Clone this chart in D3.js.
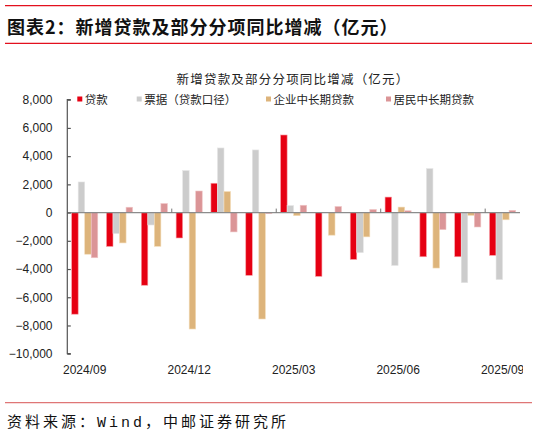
<!DOCTYPE html>
<html><head><meta charset="utf-8">
<script src="https://cdn.jsdelivr.net/npm/d3@7/dist/d3.min.js"></script>
<style>
body{margin:0;background:#fff;}
svg{display:block;}
</style></head>
<body>
<svg id="c" width="537" height="438"></svg>
<script>
const months = ["2024/09","2024/10","2024/11","2024/12","2025/01","2025/02","2025/03","2025/04","2025/05","2025/06","2025/07","2025/08","2025/09"];
const seriesNames = ["贷款","票据（贷款口径）","企业中长期贷款","居民中长期贷款"];
const loans      = [-7200,-2400,-5150,-1800, 2080,-4450, 5500,-4520,-3320, 1100,-3130,-3130,-3030];
const bills      = [ 2170,-1490, -880, 2980, 4580, 4440,  500,    0,-2840,-3750, 3120,-4970,-4750];
const corpLong   = [-2950,-2150,-2390,-8250, 1490,-7540, -220,-1600,-1720,  390,-3930, -200, -510];
const houseLong  = [-3200,  380,  640, 1530,-1370,  -80,  520,  430,  220,  130,-1210,-1020,  160];
const yTicks = [8000,6000,4000,2000,0,-2000,-4000,-6000,-8000,-10000];
const xLabelMonths = ["2024/09","2024/12","2025/03","2025/06","2025/09"];
const colors = ["#e60012","#cccccc","#ddb47b","#db9597"];
const strokes = ["#f7a0a8","#e6e6e6","#f3dcb8","#f0c6c7"];

const seriesValues = [loans, bills, corpLong, houseLong];
const svg = d3.select("#c");

// header lines and title
svg.append("line").attr("x1",5).attr("x2",532).attr("y1",5.7).attr("y2",5.7).attr("stroke","#e3101e").attr("stroke-width",1.2);
svg.append("line").attr("x1",5).attr("x2",532).attr("y1",43.3).attr("y2",43.3).attr("stroke","#e3101e").attr("stroke-width",1.2);
svg.append("text").attr("x",7).attr("y",33.5)
  .attr("font-family","'Noto Sans CJK SC'").attr("font-weight","bold").attr("font-size",18)
  .attr("letter-spacing",1).attr("fill","#111")
  .text("图表2：新增贷款及部分分项同比增减（亿元）");

// footer
svg.append("line").attr("x1",5).attr("x2",532).attr("y1",402.7).attr("y2",402.7).attr("stroke","#df7676").attr("stroke-width",1.3);
const src = svg.append("text").attr("x",7).attr("y",427)
  .attr("font-family","'Noto Sans CJK SC'").attr("font-size",15).attr("letter-spacing",3).attr("fill","#111");
src.append("tspan").text("资料来源：");
src.append("tspan").attr("font-family","'Liberation Mono','DejaVu Sans Mono'").text("Wind");
src.append("tspan").text("，中邮证券研究所");

// chart subtitle
svg.append("text").attr("x",293).attr("y",83.5).attr("text-anchor","middle")
  .attr("font-family","'Noto Sans CJK SC'").attr("font-size",12.5).attr("letter-spacing",1.2).attr("fill","#222")
  .text("新增贷款及部分分项同比增减（亿元）");

// scales
const y = d3.scaleLinear().domain([-10000,8000]).range([353.7,99.7]);
const x0 = d3.scaleBand().domain(months).range([67.3,520]).paddingInner(0.25).paddingOuter(0.125);
const x1 = d3.scaleBand().domain(d3.range(seriesNames.length)).range([0,x0.bandwidth()]);

// bars
const g = svg.append("g");
seriesValues.forEach((vals,si)=>{
  g.selectAll(null).data(vals.map((v,i)=>({m:months[i],v:v}))).join("rect")
    .attr("x",d=>x0(d.m)+x1(si))
    .attr("width",x1.bandwidth())
    .attr("y",d=>Math.min(y(d.v),y(0)))
    .attr("height",d=>Math.abs(y(d.v)-y(0)))
    .attr("fill",colors[si])
    .attr("stroke",strokes[si]).attr("stroke-width",0.6);
});

// zero axis line
svg.append("line").attr("x1",67.3).attr("x2",520).attr("y1",y(0)).attr("y2",y(0)).attr("stroke","#8c8c8c").attr("stroke-width",1.2);
// quarter ticks on zero line
const stepW = x0.step();
[3,6,9,12].forEach(k=>{
  const xx = 67.3 + k*stepW;
  svg.append("line").attr("x1",xx).attr("x2",xx).attr("y1",y(0)-4).attr("y2",y(0)).attr("stroke","#777").attr("stroke-width",1);
});

// y axis
const yAxis = d3.axisRight(y).tickValues(yTicks).tickSize(3.5).tickFormat("");
const ya = svg.append("g").attr("transform","translate(67.3,0)").call(yAxis);
ya.select(".domain").attr("stroke","#555").attr("stroke-width",1.2).attr("d",`M3.5,${y(8000)}H0V${y(-10000)}H3.5`);
ya.selectAll(".tick line").attr("stroke","#555").attr("stroke-width",1.2);
svg.append("g").selectAll("text").data(yTicks).join("text")
  .attr("x",52.5).attr("y",d=>y(d)+4.3).attr("text-anchor","end")
  .attr("font-family","'Liberation Sans',Arial").attr("font-size",12).attr("fill","#222")
  .text(d=>d3.format(",")(d));

// x labels
svg.append("defs").append("clipPath").attr("id","clipx").append("rect").attr("x",0).attr("y",355).attr("width",523).attr("height",30);
svg.append("g").attr("clip-path","url(#clipx)").selectAll("text").data(xLabelMonths).join("text")
  .attr("x",d=>x0(d)+x0.bandwidth()/2).attr("y",373.5).attr("text-anchor","middle")
  .attr("font-family","'Liberation Sans',Arial").attr("font-size",12).attr("fill","#222")
  .text(d=>d);

// legend
const legX = [77.3,136.7,266,386];
const leg = svg.append("g");
seriesNames.forEach((n,i)=>{
  leg.append("rect").attr("x",legX[i]).attr("y",96.5).attr("width",5).attr("height",5).attr("fill",colors[i]);
  leg.append("text").attr("x",legX[i]+7.5).attr("y",103.5)
    .attr("font-family","'Noto Sans CJK SC'").attr("font-size",11.5).attr("fill","#222").text(n);
});
</script>
</body></html>
